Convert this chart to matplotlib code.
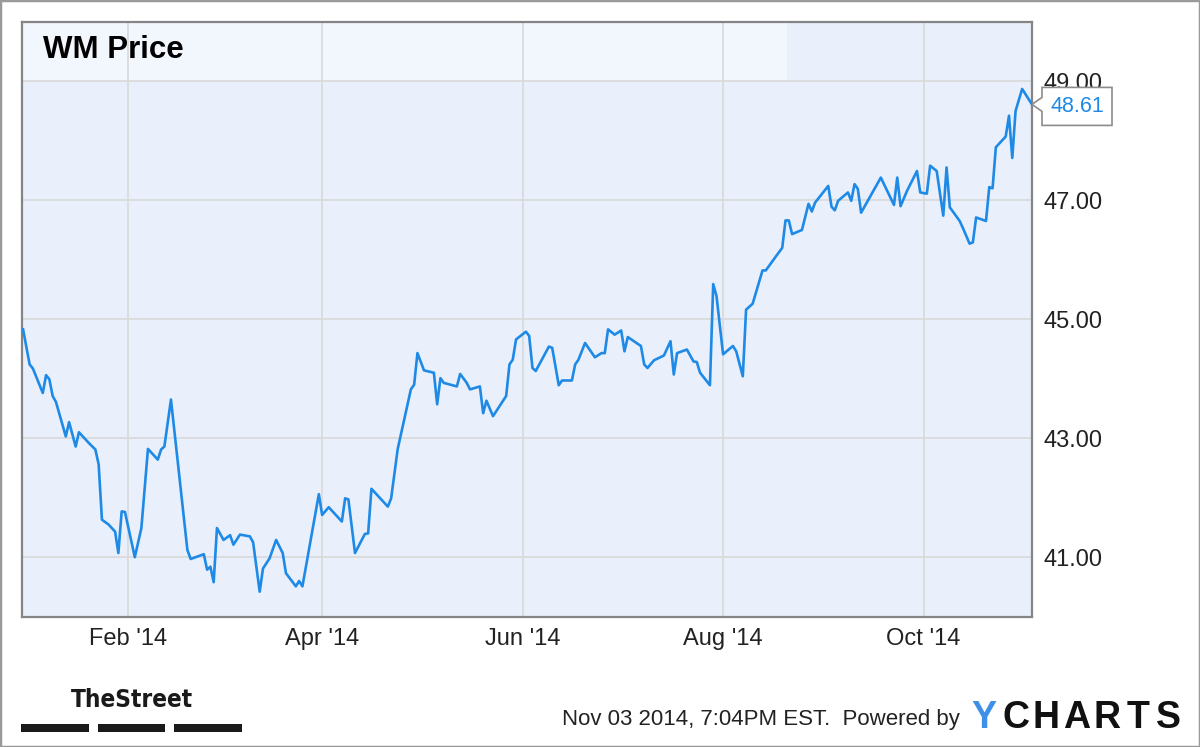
import datetime as dt

import matplotlib
matplotlib.use("Agg")
import matplotlib.pyplot as plt
import matplotlib.dates as mdates
from matplotlib.patches import Polygon, Rectangle
from matplotlib.transforms import ScaledTranslation

# --- data --------------------------------------------------------------------
dates = [
    "2013-12-31", "2014-01-02", "2014-01-03", "2014-01-06", "2014-01-07",
    "2014-01-08", "2014-01-09", "2014-01-10", "2014-01-13", "2014-01-14",
    "2014-01-16", "2014-01-17", "2014-01-20", "2014-01-22", "2014-01-23",
    "2014-01-24", "2014-01-26", "2014-01-28", "2014-01-29", "2014-01-30",
    "2014-01-31", "2014-02-03", "2014-02-05", "2014-02-07", "2014-02-10",
    "2014-02-11", "2014-02-12", "2014-02-14", "2014-02-19", "2014-02-20",
    "2014-02-24", "2014-02-25", "2014-02-26", "2014-02-27", "2014-02-28",
    "2014-03-02", "2014-03-04", "2014-03-05", "2014-03-07", "2014-03-10",
    "2014-03-11", "2014-03-13", "2014-03-14", "2014-03-16", "2014-03-18",
    "2014-03-20", "2014-03-21", "2014-03-24", "2014-03-25", "2014-03-26",
    "2014-03-31", "2014-04-01", "2014-04-03", "2014-04-07", "2014-04-08",
    "2014-04-09", "2014-04-11", "2014-04-14", "2014-04-15", "2014-04-16",
    "2014-04-21", "2014-04-22", "2014-04-24", "2014-04-28", "2014-04-29",
    "2014-04-30", "2014-05-02", "2014-05-05", "2014-05-06", "2014-05-07",
    "2014-05-08", "2014-05-12", "2014-05-13", "2014-05-15", "2014-05-16",
    "2014-05-19", "2014-05-20", "2014-05-21", "2014-05-23", "2014-05-27",
    "2014-05-28", "2014-05-29", "2014-05-30", "2014-06-02", "2014-06-03",
    "2014-06-04", "2014-06-05", "2014-06-09", "2014-06-10", "2014-06-12",
    "2014-06-13", "2014-06-16", "2014-06-17", "2014-06-18", "2014-06-20",
    "2014-06-23", "2014-06-25", "2014-06-26", "2014-06-27", "2014-06-29",
    "2014-07-01", "2014-07-02", "2014-07-03", "2014-07-07", "2014-07-08",
    "2014-07-09", "2014-07-11", "2014-07-14", "2014-07-16", "2014-07-17",
    "2014-07-18", "2014-07-21", "2014-07-23", "2014-07-24", "2014-07-25",
    "2014-07-28", "2014-07-29", "2014-07-30", "2014-08-01", "2014-08-04",
    "2014-08-05", "2014-08-07", "2014-08-08", "2014-08-10", "2014-08-13",
    "2014-08-14", "2014-08-17", "2014-08-19", "2014-08-20", "2014-08-21",
    "2014-08-22", "2014-08-25", "2014-08-27", "2014-08-28", "2014-08-29",
    "2014-09-02", "2014-09-03", "2014-09-04", "2014-09-05", "2014-09-08",
    "2014-09-09", "2014-09-10", "2014-09-11", "2014-09-12", "2014-09-18",
    "2014-09-22", "2014-09-23", "2014-09-24", "2014-09-26", "2014-09-29",
    "2014-09-30", "2014-10-02", "2014-10-03", "2014-10-05", "2014-10-07",
    "2014-10-08", "2014-10-09", "2014-10-12", "2014-10-13", "2014-10-15",
    "2014-10-16", "2014-10-17", "2014-10-20", "2014-10-21", "2014-10-22",
    "2014-10-23", "2014-10-26", "2014-10-27", "2014-10-28", "2014-10-29",
    "2014-10-31", "2014-11-03",
]
prices = [
    44.83, 44.24, 44.17, 43.76, 44.06,
    43.99, 43.71, 43.61, 43.03, 43.27,
    42.86, 43.10, 42.92, 42.81, 42.56,
    41.63, 41.55, 41.43, 41.07, 41.77,
    41.76, 41.00, 41.49, 42.82, 42.64,
    42.81, 42.86, 43.65, 41.12, 40.97,
    41.05, 40.79, 40.84, 40.58, 41.49,
    41.29, 41.37, 41.21, 41.38, 41.35,
    41.25, 40.42, 40.81, 40.98, 41.29,
    41.07, 40.73, 40.51, 40.60, 40.51,
    42.06, 41.71, 41.84, 41.60, 41.99,
    41.97, 41.07, 41.39, 41.40, 42.15,
    41.85, 41.99, 42.82, 43.82, 43.90,
    44.43, 44.14, 44.10, 43.57, 44.01,
    43.93, 43.87, 44.08, 43.93, 43.82,
    43.87, 43.42, 43.63, 43.37, 43.71,
    44.24, 44.32, 44.66, 44.79, 44.72,
    44.18, 44.13, 44.54, 44.52, 43.89,
    43.97, 43.97, 44.24, 44.32, 44.60,
    44.36, 44.43, 44.43, 44.83, 44.74,
    44.81, 44.46, 44.70, 44.55, 44.24,
    44.18, 44.31, 44.39, 44.63, 44.07,
    44.43, 44.49, 44.29, 44.28, 44.10,
    43.89, 45.59, 45.39, 44.41, 44.55,
    44.46, 44.04, 45.16, 45.26, 45.82,
    45.82, 46.05, 46.20, 46.66, 46.66,
    46.43, 46.50, 46.94, 46.81, 46.96,
    47.24, 46.89, 46.83, 46.99, 47.13,
    46.99, 47.27, 47.19, 46.79, 47.38,
    46.92, 47.38, 46.90, 47.16, 47.49,
    47.13, 47.11, 47.58, 47.49, 46.74,
    47.55, 46.88, 46.65, 46.53, 46.27,
    46.29, 46.71, 46.65, 47.22, 47.20,
    47.89, 48.07, 48.42, 47.71, 48.50,
    48.87, 48.61,
]
y_ticks = [41, 43, 45, 47, 49]
x_ticks = ["2014-02-01", "2014-04-01", "2014-06-01", "2014-08-01", "2014-10-01"]
series_name = "WM Price"
last_label = "48.61"
stamp_text = "Nov 03 2014, 7:04PM EST.  Powered by"
brand_first = "Y"
brand_rest = "CHARTS"
street_text = "TheStreet"

BLUE = "#1f8ae6"
BG = "#e9f0fc"
GRID = "#d9d9d9"
TEXT = "#222222"
W, H = 1200, 747


def _px(x, y):
    """Pixel position (from top-left) to figure fraction."""
    return x / W, 1 - y / H


plt.rcParams.update({"font.family": ["Liberation Sans", "DejaVu Sans"]})

fig = plt.figure(figsize=(W / 100, H / 100), dpi=100)
fig.patch.set_facecolor("white")
fig.add_artist(Rectangle((0, 0), 1, 1, transform=fig.transFigure,
                         fill=False, ec="#9a9a9a", lw=2.5))

left, top, right, bottom = 21.7, 21.7, 1032, 616.7
ax = fig.add_axes([left / W, 1 - bottom / H, (right - left) / W, (bottom - top) / H])
ax.set_facecolor(BG)

x = [dt.datetime.strptime(d, "%Y-%m-%d") for d in dates]
ax.plot(x, prices, color=BLUE, lw=1.9, solid_joinstyle="round", zorder=3)

ax.set_xlim(dt.datetime(2013, 12, 30, 14), dt.datetime(2014, 11, 3))
ax.set_ylim(40, 50)
ax.set_yticks(y_ticks)
ax.yaxis.set_major_formatter(plt.FormatStrFormatter("%.2f"))
ax.set_xticks([dt.datetime.strptime(d, "%Y-%m-%d") for d in x_ticks])
ax.xaxis.set_major_formatter(mdates.DateFormatter("%b '%y"))
ax.yaxis.tick_right()
ax.tick_params(axis="both", length=0, labelsize=17, labelcolor=TEXT)
ax.tick_params(axis="y", pad=8)
ax.tick_params(axis="x", pad=8)
ax.grid(True, color=GRID, lw=1.2)
ax.set_axisbelow(True)
for spine in ax.spines.values():
    spine.set_color("#858585")
    spine.set_linewidth(1.6)

# lighter legend band behind the series name
ax.add_patch(Rectangle((0, 0.9), (787 - left) / (right - left), 0.1,
                       transform=ax.transAxes, fc="white", alpha=0.45,
                       ec="none", zorder=0.4))
fig.text(*_px(43, 50), series_name, fontsize=22.5, fontweight="bold",
         color="black", va="center", ha="left")

# last-value callout
anchor = ScaledTranslation(mdates.date2num(x[-1]), prices[-1], ax.transData)
tr = fig.dpi_scale_trans + anchor
callout = [(0, 0), (0.10, 0.07), (0.10, 0.17), (0.80, 0.17),
           (0.80, -0.21), (0.10, -0.21), (0.10, -0.07)]
fig.add_artist(Polygon(callout, closed=True, transform=tr, fc="white",
                       ec="#8c8c8c", lw=1.2, zorder=5))
fig.text(0.45, -0.02, last_label, transform=tr, color=BLUE, fontsize=15.5,
         ha="center", va="center", zorder=6)

# footer: TheStreet mark
fig.text(*_px(132, 700), street_text, fontsize=17.5, fontweight="bold",
         family="DejaVu Sans", fontstretch="condensed",
         color="#1a1a1a", ha="center", va="center")
for x0, x1 in [(21, 89), (98, 165), (174, 242)]:
    fig.add_artist(Rectangle(_px(x0, 732), (x1 - x0) / W, 8 / H,
                             transform=fig.transFigure, color="#1a1a1a", lw=0))

# footer: timestamp + YCharts mark
fig.text(*_px(960, 719), stamp_text, fontsize=16, color=TEXT,
         ha="right", va="center")
fig.text(*_px(984, 718), brand_first, fontsize=27, fontweight="bold",
         color="#3d8fe8", ha="center", va="center")
for i, ch in enumerate(brand_rest):
    fig.text(*_px(1016 + 30.4 * i, 718), ch, fontsize=27, fontweight="bold",
             color="#111111", ha="center", va="center")

fig.savefig("out.png", dpi=100, facecolor="white")
